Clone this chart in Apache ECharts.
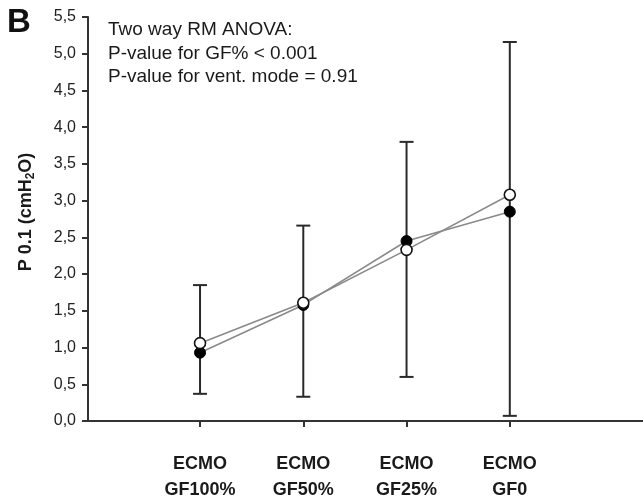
<!DOCTYPE html>
<html>
<head>
<meta charset="utf-8">
<script src="https://cdn.jsdelivr.net/npm/echarts@6/dist/echarts.min.js"></script>
<style>html,body{margin:0;padding:0;background:#fff;}#c{width:643px;height:502px;}</style>
</head>
<body>
<div id="c"></div>
<script>
var categories = ['ECMO\nGF100%', 'ECMO\nGF50%', 'ECMO\nGF25%', 'ECMO\nGF0'];
var xPositions = [1, 2, 3, 4];
var filledValues = [0.93, 1.58, 2.45, 2.85];
var openValues = [1.06, 1.61, 2.33, 3.08];
var errLow = [0.37, 0.33, 0.60, 0.07];
var errHigh = [1.85, 2.66, 3.80, 5.16];
var yTicks = [0, 0.5, 1, 1.5, 2, 2.5, 3, 3.5, 4, 4.5, 5, 5.5];
var annotation = ['Two way RM ANOVA:', 'P-value for GF% < 0.001', 'P-value for vent. mode = 0.91'];

var FONT = 'Liberation Sans, Arial, sans-serif';
var chart = echarts.init(document.getElementById('c'));

function pairs(vals) { return xPositions.map(function (x, i) { return [x, vals[i]]; }); }
var errData = xPositions.map(function (x, i) { return [x, errLow[i], errHigh[i]]; });

var option = {
  animation: false,
  backgroundColor: '#fff',
  grid: { left: 88, right: 0, top: 17, bottom: 81, containLabel: false, outerBoundsMode: 'none' },
  xAxis: {
    type: 'value', min: -0.085, max: 5.29,
    splitLine: { show: false },
    axisLine: { show: true, onZero: false, lineStyle: { color: '#333', width: 2 } },
    axisTick: { show: true, inside: false, length: 6, lineStyle: { color: '#333', width: 2 }, customValues: xPositions },
    axisLabel: {
      customValues: xPositions, margin: 30,
      formatter: function (v) { var i = xPositions.indexOf(v); return i >= 0 ? categories[i] : ''; },
      fontFamily: FONT, fontSize: 18, fontWeight: 'bold', color: '#1a1a1a', lineHeight: 26
    }
  },
  yAxis: {
    type: 'value', min: 0, max: 5.5, interval: 0.5,
    splitLine: { show: false },
    axisLine: { show: true, onZero: false, lineStyle: { color: '#333', width: 2 } },
    axisTick: { show: true, length: 6, lineStyle: { color: '#333', width: 2 } },
    axisLabel: {
      margin: 12, fontFamily: FONT, fontSize: 16, color: '#222',
      formatter: function (v) { return v.toFixed(1).replace('.', ','); }
    }
  },
  graphic: [
    { type: 'text', left: 7, top: 6, style: { text: 'B', font: 'bold 33px ' + FONT, fill: '#111' } },
    { type: 'text', x: 26, y: 212, rotation: Math.PI / 2,
      style: {
        text: '{a|P 0.1 (cmH}{s|2}{a|O)}',
        align: 'center', verticalAlign: 'middle',
        rich: {
          a: { fontFamily: FONT, fontSize: 18, fontWeight: 'bold', fill: '#1a1a1a', lineHeight: 22 },
          s: { fontFamily: FONT, fontSize: 12, fontWeight: 'bold', fill: '#1a1a1a', lineHeight: 12, padding: [10, 0, 0, 0] }
        }
      } },
    { type: 'text', x: 108, y: 30, style: { text: annotation[0], font: '19px ' + FONT, fill: '#1a1a1a', verticalAlign: 'middle' } },
    { type: 'text', x: 108, y: 54, style: { text: annotation[1], font: '19px ' + FONT, fill: '#1a1a1a', verticalAlign: 'middle' } },
    { type: 'text', x: 108, y: 77, style: { text: annotation[2], font: '19px ' + FONT, fill: '#1a1a1a', verticalAlign: 'middle' } }
  ],
  series: [
    {
      type: 'custom', z: 1,
      data: errData,
      encode: { x: 0, y: [1, 2] },
      renderItem: function (params, api) {
        var lo = api.coord([api.value(0), api.value(1)]);
        var hi = api.coord([api.value(0), api.value(2)]);
        var w = 7;
        var st = { stroke: '#2a2a2a', lineWidth: 2 };
        return { type: 'group', children: [
          { type: 'line', shape: { x1: lo[0], y1: lo[1], x2: hi[0], y2: hi[1] }, style: st },
          { type: 'line', shape: { x1: lo[0] - w, y1: lo[1], x2: lo[0] + w, y2: lo[1] }, style: st },
          { type: 'line', shape: { x1: hi[0] - w, y1: hi[1], x2: hi[0] + w, y2: hi[1] }, style: st }
        ] };
      }
    },
    {
      type: 'line', z: 3, data: pairs(filledValues),
      symbol: 'circle', symbolSize: 11,
      lineStyle: { color: '#8a8a8a', width: 1.6 },
      itemStyle: { color: '#000', borderColor: '#000', borderWidth: 1 }
    },
    {
      type: 'line', z: 4, data: pairs(openValues),
      symbol: 'circle', symbolSize: 11,
      lineStyle: { color: '#8a8a8a', width: 1.6 },
      itemStyle: { color: '#fff', borderColor: '#111', borderWidth: 1.6 }
    }
  ]
};
chart.setOption(option);
</script>
</body>
</html>
